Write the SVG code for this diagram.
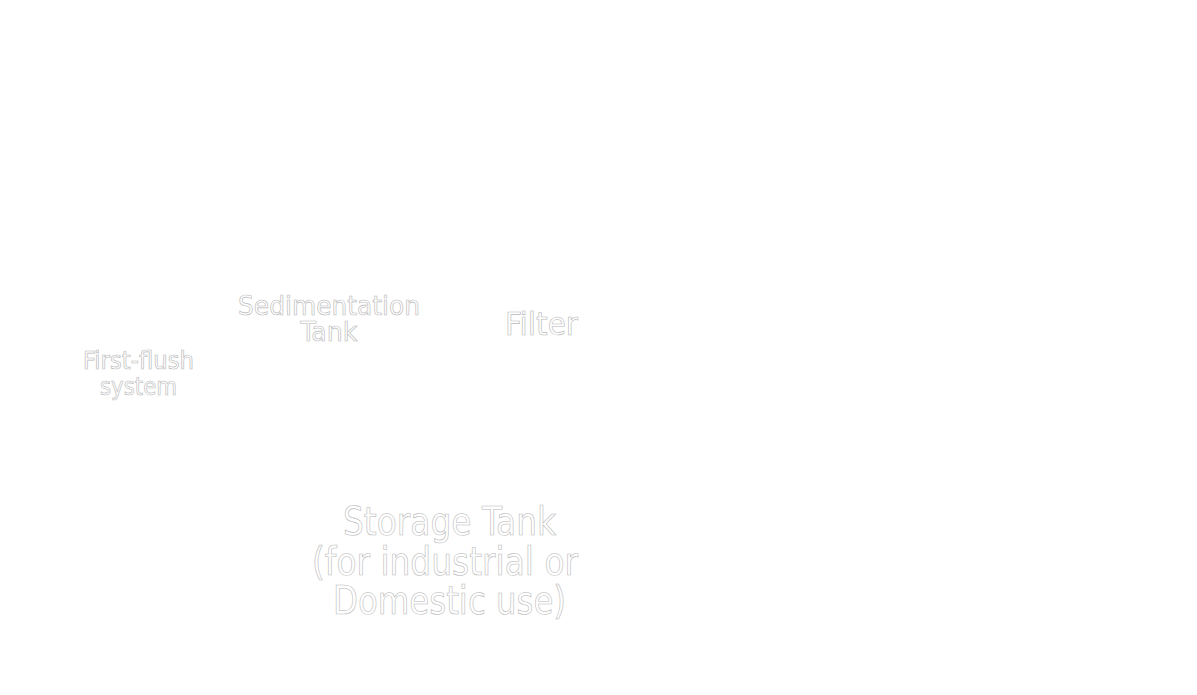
<svg xmlns="http://www.w3.org/2000/svg" width="1197" height="695" viewBox="0 0 1197 695">
<style>
text{font-family:"Liberation Sans Narrow","DejaVu Sans Condensed","Liberation Sans",sans-serif;font-stretch:condensed;fill:#ffffff;stroke:#b8b8b8;stroke-width:0.6;text-anchor:middle}
.s{font-size:27px}
.f{font-size:24px}
.m{font-size:32px}
.l{font-size:39px}
</style>
<rect width="1197" height="695" fill="#ffffff"/>
<g id="connectors"></g>
<g id="sedimentation"><text class="s" x="329" y="315" textLength="182" lengthAdjust="spacingAndGlyphs">Sedimentation</text><text class="s" x="329" y="341" textLength="57" lengthAdjust="spacingAndGlyphs">Tank</text></g>
<g id="firstflush"><text class="f" x="138.5" y="369" textLength="111" lengthAdjust="spacingAndGlyphs">First-flush</text><text class="f" x="138.5" y="395" textLength="77" lengthAdjust="spacingAndGlyphs">system</text></g>
<g id="filter"><text class="m" x="541.5" y="335" textLength="73" lengthAdjust="spacingAndGlyphs">Filter</text></g>
<g id="storage"><text class="l" x="449.5" y="535" textLength="213" lengthAdjust="spacingAndGlyphs">Storage Tank</text><text class="l" x="445" y="575" textLength="266" lengthAdjust="spacingAndGlyphs">(for industrial or</text><text class="l" x="449.5" y="614" textLength="233" lengthAdjust="spacingAndGlyphs">Domestic use)</text></g>
</svg>
